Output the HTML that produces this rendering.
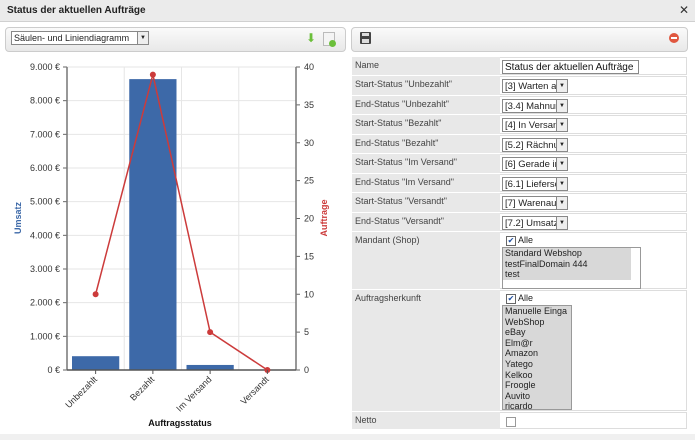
<!DOCTYPE html>
<html><head><meta charset="utf-8"><style>
body{margin:0;width:695px;height:440px;background:#fff;font-family:"Liberation Sans",sans-serif;overflow:hidden;position:relative}
.abs{position:absolute}
#title{left:0;top:0;width:695px;height:21px;background:#ebebeb;border-bottom:1px solid #d0d0d0;font-size:10px;font-weight:bold;line-height:21px;text-indent:7px;color:#222}
#close{right:6px;top:0;font-size:12px;line-height:21px;color:#333}
.bar{border:1px solid #ccc;border-radius:4px;background:linear-gradient(#fafafa,#e8e8e8)}
.sel{position:absolute;border:1px solid #888;background:#fff;height:14px;line-height:13px;padding-left:2px;box-sizing:border-box;overflow:hidden;white-space:nowrap;font-family:"Liberation Sans",sans-serif;font-size:9.5px;color:#222}
.sel .ar{position:absolute;right:0;top:0;width:10px;height:12px;border-left:1px solid #888;background:#eee;font-size:6px;text-align:center;line-height:12px}
table{border-collapse:separate;border-spacing:0 1px;font-size:9px;color:#444}
td{padding:0}
.lab{background:#e8e8e8;width:142px;vertical-align:top;padding:3px 3px 0}
.val{border:1px solid #ddd;border-left:none;position:relative;vertical-align:top}
.list{border:1px solid #999;background:#fff;font-size:9px;color:#222;position:absolute}
.list div{background:#d8d8d8;padding-left:2px;line-height:10.6px}
.cb{display:inline-block;width:8px;height:8px;border:1px solid #666;background:#fff;vertical-align:middle;font-size:8px;line-height:8px;color:#2050a0;text-align:center}
</style></head><body>
<div id="title" class="abs">Status der aktuellen Aufträge</div>
<div id="close" class="abs">✕</div>

<div class="abs bar" style="left:5px;top:27px;width:339px;height:23px"></div>
<div class="sel" style="left:11px;top:31px;width:138px;height:14px;font-size:9px">Säulen- und Liniendiagramm<span class="ar">▼</span></div>
<div class="abs" style="left:306px;top:32px;width:10px;height:12px;color:#6bbf3a;font-size:12px;line-height:12px">⬇</div>
<div class="abs" style="left:323px;top:32px;width:10px;height:12px;border:1px solid #bbb;background:#f4f4f4"><div style="position:absolute;right:-2px;bottom:-2px;width:7px;height:7px;border-radius:50%;background:#6bbf3a"></div></div>

<svg class="abs" style="left:0;top:52px" width="345" height="388" id="chart"></svg>

<div class="abs bar" style="left:351px;top:27px;width:335px;height:23px"></div>
<div class="abs" style="left:360px;top:32px;width:11px;height:12px;background:#444;border-radius:1px"><div style="position:absolute;left:2px;top:1px;width:7px;height:3px;background:#ddd"></div><div style="position:absolute;left:2px;top:7px;width:7px;height:4px;background:#ddd"></div></div>
<div class="abs" style="left:669px;top:33px;width:10px;height:10px;border-radius:50%;background:#e0573f"><div style="position:absolute;left:2px;top:4px;width:6px;height:2px;background:#fff"></div></div>

<table class="abs" style="left:352px;top:56px;width:335px">
<tr style="height:18px"><td class="lab">Name</td><td class="val"><div class="sel" style="left:2px;top:2px;width:137px;font-size:10px;height:14px;color:#111">Status der aktuellen Aufträge</div></td></tr>
<tr style="height:18.5px"><td class="lab">Start-Status "Unbezahlt"</td><td class="val"><div class="sel" style="left:2px;top:2px;width:66px">[3] Warten au<span class="ar">▼</span></div></td></tr>
<tr style="height:18.5px"><td class="lab">End-Status "Unbezahlt"</td><td class="val"><div class="sel" style="left:2px;top:2px;width:66px">[3.4] Mahnung<span class="ar">▼</span></div></td></tr>
<tr style="height:18.5px"><td class="lab">Start-Status "Bezahlt"</td><td class="val"><div class="sel" style="left:2px;top:2px;width:66px">[4] In Versand<span class="ar">▼</span></div></td></tr>
<tr style="height:18.5px"><td class="lab">End-Status "Bezahlt"</td><td class="val"><div class="sel" style="left:2px;top:2px;width:66px">[5.2] Rächnur<span class="ar">▼</span></div></td></tr>
<tr style="height:18.5px"><td class="lab">Start-Status "Im Versand"</td><td class="val"><div class="sel" style="left:2px;top:2px;width:66px">[6] Gerade im<span class="ar">▼</span></div></td></tr>
<tr style="height:18.5px"><td class="lab">End-Status "Im Versand"</td><td class="val"><div class="sel" style="left:2px;top:2px;width:66px">[6.1] Liefersch<span class="ar">▼</span></div></td></tr>
<tr style="height:18.5px"><td class="lab">Start-Status "Versandt"</td><td class="val"><div class="sel" style="left:2px;top:2px;width:66px">[7] Warenaus<span class="ar">▼</span></div></td></tr>
<tr style="height:18.5px"><td class="lab">End-Status "Versandt"</td><td class="val"><div class="sel" style="left:2px;top:2px;width:66px">[7.2] Umsatze<span class="ar">▼</span></div></td></tr>
<tr style="height:57px"><td class="lab">Mandant (Shop)</td><td class="val"><div style="position:absolute;left:6px;top:2px;font-size:9px;color:#222"><span class="cb">✔</span> Alle</div>
<div class="list" style="left:2px;top:14px;width:137px;height:40px"><div style="margin-right:9px">Standard Webshop</div><div style="margin-right:9px">testFinalDomain 444</div><div style="margin-right:9px">test</div></div></td></tr>
<tr style="height:121px"><td class="lab">Auftragsherkunft</td><td class="val"><div style="position:absolute;left:6px;top:2px;font-size:9px;color:#222"><span class="cb">✔</span> Alle</div>
<div class="list" style="left:2px;top:14px;width:68px;height:103px;overflow:hidden"><div>Manuelle Einga</div><div>WebShop</div><div>eBay</div><div>Elm@r</div><div>Amazon</div><div>Yatego</div><div>Kelkoo</div><div>Froogle</div><div>Auvito</div><div>ricardo</div></div></td></tr>
<tr style="height:17px"><td class="lab">Netto</td><td class="val"><span class="cb" style="position:absolute;left:6px;top:4px;border-color:#999"></span></td></tr>
</table>
<div class="abs" style="left:0;top:434px;width:695px;height:6px;background:#f0f0f0"></div>

<script>
const categories=["Unbezahlt","Bezahlt","Im Versand","Versandt"];
const revenue=[410,8640,150,0];
const orders=[10,39,5,0];
const leftTicks=[0,1000,2000,3000,4000,5000,6000,7000,8000,9000];
const leftTickLabels=["0 €","1.000 €","2.000 €","3.000 €","4.000 €","5.000 €","6.000 €","7.000 €","8.000 €","9.000 €"];
const rightTicks=[0,5,10,15,20,25,30,35,40];

const svg=document.getElementById('chart');
const NS="http://www.w3.org/2000/svg";
const X0=67,X1=296,Y0=318,Y1=15;
const yL=v=>Y0-(v/9000)*(Y0-Y1);
const yR=v=>Y0-(v/40)*(Y0-Y1);
const bw=(X1-X0)/categories.length;
const xc=i=>X0+bw*(i+0.5);
function mk(tag,attrs,name,txt){const e=document.createElementNS(NS,tag);for(const k in attrs)e.setAttribute(k,attrs[k]);


if(txt!==undefined)e.textContent=txt;svg.appendChild(e);return e;}
leftTicks.forEach((t,i)=>{const y=yL(t);
 mk('line',{x1:X0,x2:X1,y1:y,y2:y,stroke:'#e6e6e6'},'gridline');
 mk('line',{x1:X0-4,x2:X0,y1:y,y2:y,stroke:'#666'},'left-tick');
 mk('text',{x:X0-7,y:y+3,'text-anchor':'end','font-size':9,fill:'#333'},'left-tick-label',leftTickLabels[i]);});
for(let i=1;i<categories.length;i++)mk('line',{x1:X0+bw*i,x2:X0+bw*i,y1:Y1,y2:Y0,stroke:'#e6e6e6'},'v-gridline');
rightTicks.forEach(t=>{const y=yR(t);
 mk('line',{x1:X1,x2:X1+4,y1:y,y2:y,stroke:'#666'},'right-tick');
 mk('text',{x:X1+8,y:y+3,'font-size':9,fill:'#333'},'right-tick-label',String(t));});
revenue.forEach((v,i)=>{if(v>0)mk('rect',{x:X0+bw*i+5,y:yL(v),width:bw-10,height:Y0-yL(v),fill:'#3d69a8'},'bar-'+categories[i].toLowerCase().replace(' ','-'));});
mk('line',{x1:X0,x2:X0,y1:Y1,y2:Y0,stroke:'#777','stroke-width':1.5},'left-axis');
mk('line',{x1:X1,x2:X1,y1:Y1,y2:Y0,stroke:'#777','stroke-width':1.5},'right-axis');
mk('line',{x1:X0,x2:X1,y1:Y0,y2:Y0,stroke:'#555','stroke-width':1.5},'x-axis');
mk('polyline',{points:orders.map((v,i)=>xc(i)+','+yR(v)).join(' '),fill:'none',stroke:'#cc3b3b','stroke-width':1.5},'orders-line');
orders.forEach((v,i)=>mk('circle',{cx:xc(i),cy:yR(v),r:3,fill:'#cc3b3b'},'orders-point'));
categories.forEach((c,i)=>{const x=xc(i);
 mk('line',{x1:x,x2:x,y1:Y0,y2:Y0+4,stroke:'#555'},'x-tick');
 mk('text',{x:x+2,y:Y0+10,'text-anchor':'end','font-size':9,fill:'#333',transform:`rotate(-45 ${x+2} ${Y0+10})`},'x-tick-label',c);});
mk('text',{x:180,y:374,'text-anchor':'middle','font-size':9,'font-weight':'bold',fill:'#111'},'x-axis-title','Auftragsstatus');
mk('text',{x:21,y:166,'text-anchor':'middle','font-size':9,'font-weight':'bold',fill:'#3d69a8',transform:'rotate(-90 21 166)'},'left-axis-title','Umsatz');
mk('text',{x:327,y:166,'text-anchor':'middle','font-size':9,'font-weight':'bold',fill:'#cc3b3b',transform:'rotate(-90 327 166)'},'right-axis-title','Auftrage');
</script>
</body></html>
